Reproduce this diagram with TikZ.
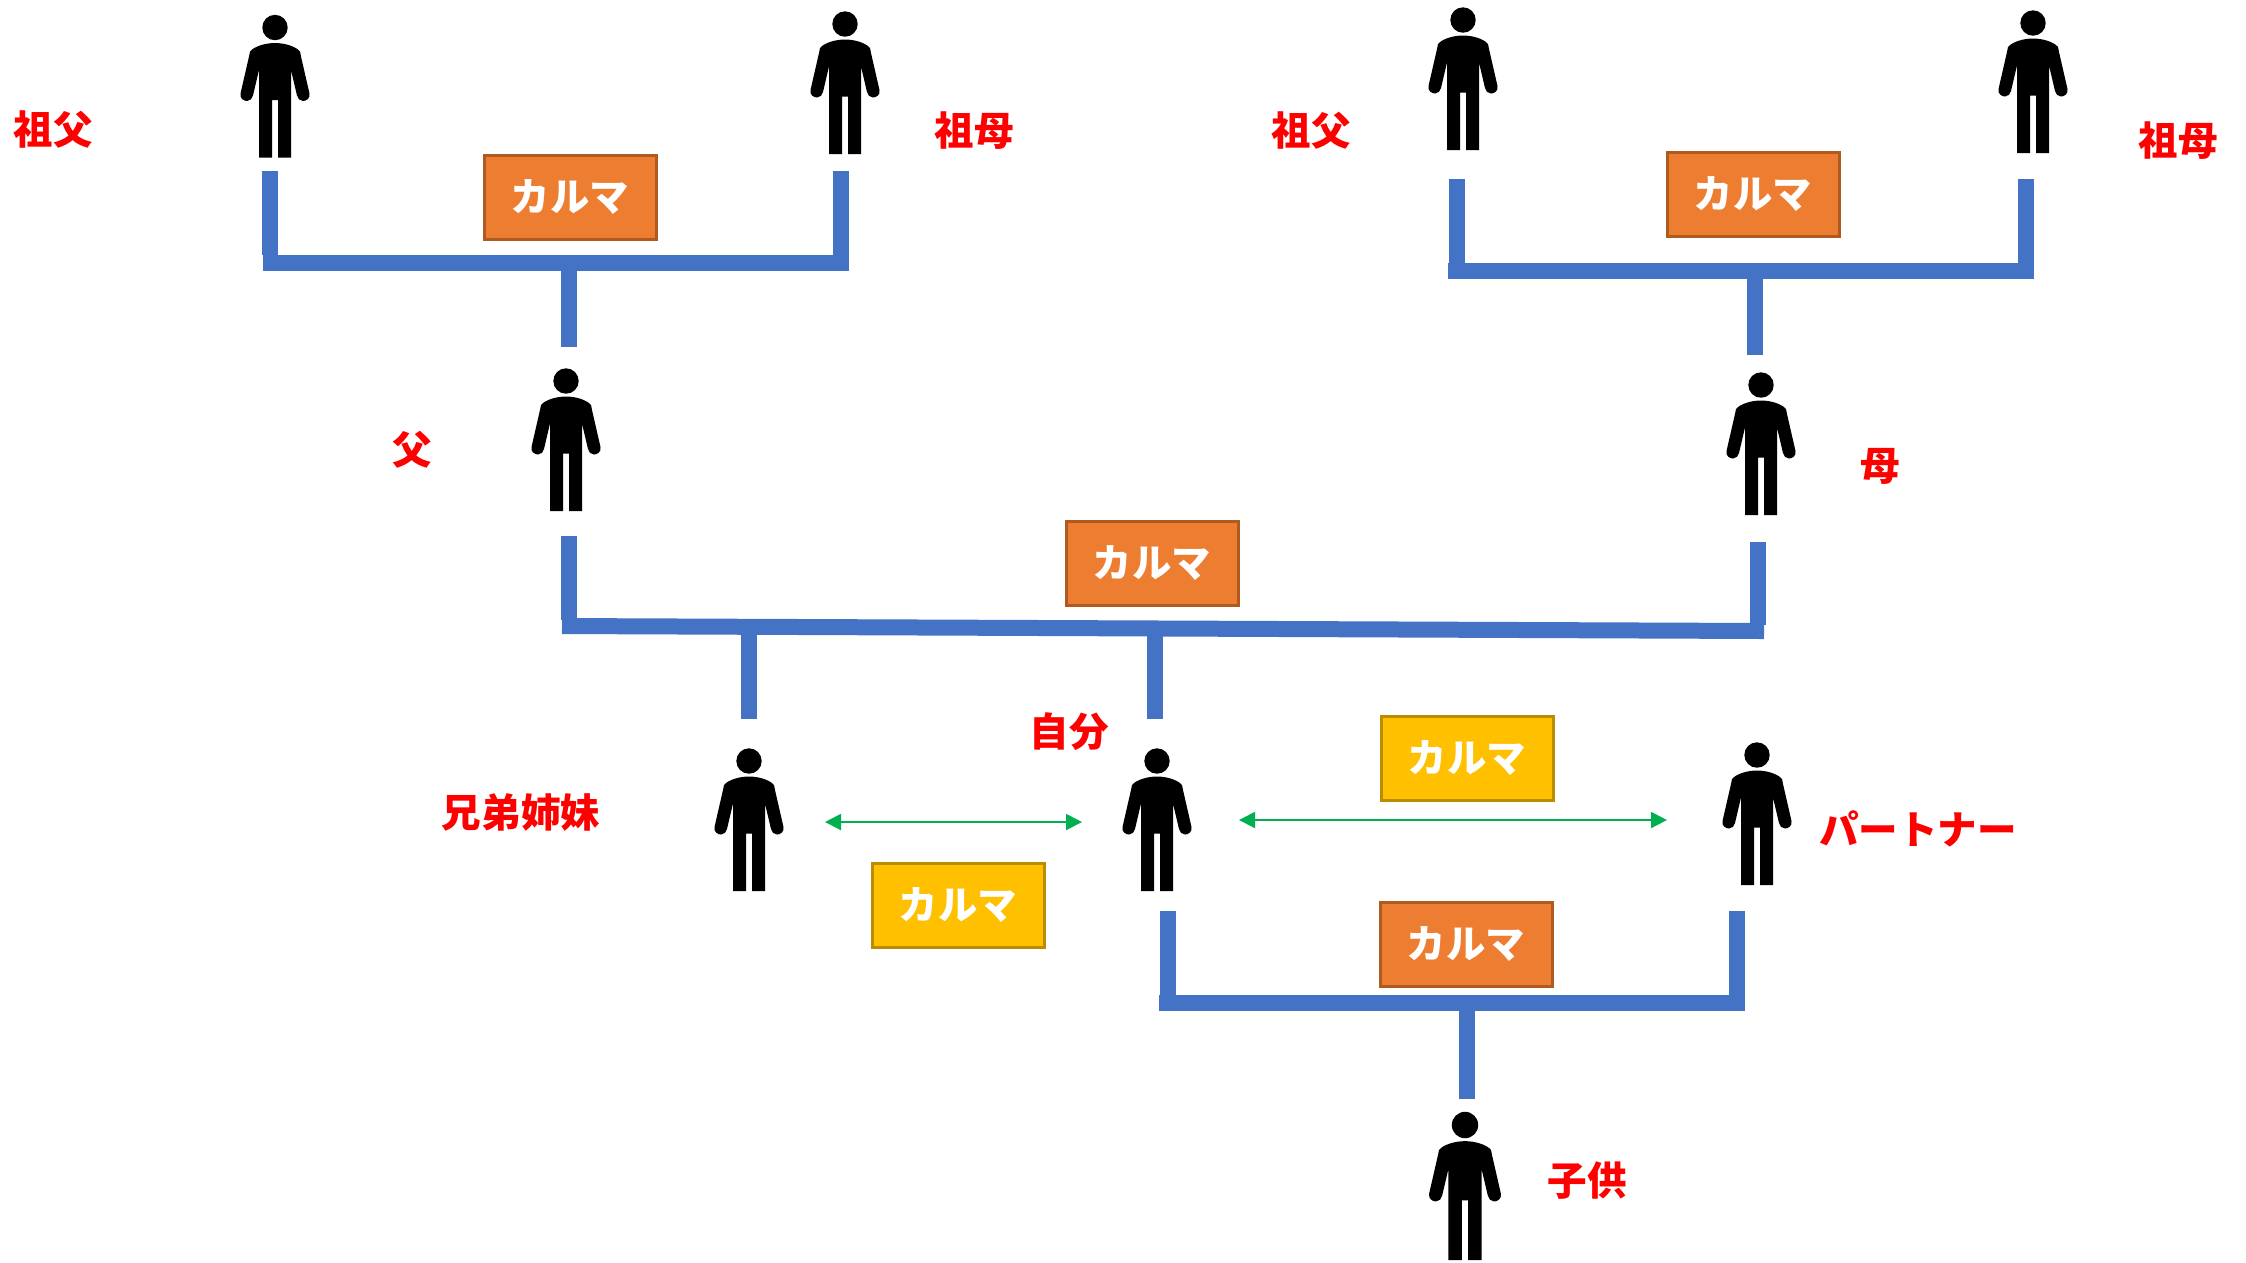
\documentclass[tikz,border=0pt]{standalone}
\usepackage{fontspec}
\setmainfont{Noto Sans CJK JP}
\usetikzlibrary{arrows.meta}
\definecolor{barblue}{HTML}{4472C4}
\definecolor{karmaorange}{HTML}{ED7D31}
\definecolor{karmaorangeline}{HTML}{AE5A21}
\definecolor{karmayellow}{HTML}{FFC000}
\definecolor{karmayellowline}{HTML}{BC8C00}
\definecolor{linkgreen}{HTML}{00B050}
\tikzset{
  bar/.style={draw=barblue, line width=1.6mm},
  karma/.style={minimum width=17.2mm, minimum height=8.4mm, inner sep=0pt, line width=0.3mm,
    text=white, font=\fontsize{11.2pt}{13pt}\selectfont\bfseries},
  karmao/.style={karma, fill=karmaorange, draw=karmaorangeline},
  karmay/.style={karma, fill=karmayellow, draw=karmayellowline},
  who/.style={text=red, inner sep=0pt, font=\fontsize{11.25pt}{13pt}\selectfont\bfseries},
  link/.style={draw=linkgreen, line width=0.2mm, {Triangle[length=1.6mm,width=1.6mm]}-{Triangle[length=1.6mm,width=1.6mm]}},
  person/.pic={
    \fill [black] (0,0) circle [radius=12.7] ;
    \fill [black] (0,15.5) .. controls (10,15.5) and (21,19) .. (25,24)
      -- (26,29) -- (34.5,66) .. controls (35.5,71) and (31,73.5) .. (28,73.5)
      .. controls (25,73.5) and (22.5,71) .. (22,68) -- (16,42.5) -- (16,130) -- (3,130)
      -- (3,72.5) -- (-3,72.5) -- (-3,130) -- (-16,130) -- (-16,42.5) -- (-22,68)
      .. controls (-22.5,71) and (-25,73.5) .. (-28,73.5)
      .. controls (-31,73.5) and (-35.5,71) .. (-34.5,66) -- (-26,29) -- (-25,24)
      .. controls (-21,19) and (-10,15.5) .. (0,15.5) -- cycle ;
  },
}
\begin{document}
\begin{tikzpicture}[x=0.1mm, y=-0.1mm]
    \useasboundingbox (0,0) rectangle (2246,1262) ;

    % people
    \pic (gfa) at (275,27.5) {person} ;
    \pic (gma) at (845,24) {person} ;
    \pic (gfb) at (1463,20) {person} ;
    \pic (gmb) at (2033,23) {person} ;
    \pic (father) at (566,381) {person} ;
    \pic (mother) at (1761,385) {person} ;
    \pic (sibling) at (749,761) {person} ;
    \pic (self) at (1157,761) {person} ;
    \pic (partner) at (1757,755) {person} ;
    \pic [scale=1.04] (child) at (1465,1125) {person} ;

    % left grandparents
    \coordinate (la) at (270,171) ;
    \coordinate (lb) at (270,255) ;
    \coordinate (lc) at (841,171) ;
    \coordinate (ld) at (841,255) ;
    \coordinate (le) at (263,263) ;
    \coordinate (lf) at (849,263) ;
    \coordinate (lg) at (569,271) ;
    \coordinate (lh) at (569,347) ;
    \draw [bar] (la) -- (lb) ;
    \draw [bar] (lc) -- (ld) ;
    \draw [bar] (le) -- (lf) ;
    \draw [bar] (lg) -- (lh) ;

    % right grandparents
    \coordinate (ra) at (1457,179) ;
    \coordinate (rb) at (1457,263) ;
    \coordinate (rc) at (2026,179) ;
    \coordinate (rd) at (2026,263) ;
    \coordinate (re) at (1448,271) ;
    \coordinate (rf) at (2034,271) ;
    \coordinate (rg) at (1755,279) ;
    \coordinate (rh) at (1755,355) ;
    \draw [bar] (ra) -- (rb) ;
    \draw [bar] (rc) -- (rd) ;
    \draw [bar] (re) -- (rf) ;
    \draw [bar] (rg) -- (rh) ;

    % parents
    \coordinate (ma) at (569,536) ;
    \coordinate (mb) at (569,620) ;
    \coordinate (mc) at (1758,542) ;
    \coordinate (md) at (1758,625) ;
    \coordinate (me) at (562,626) ;
    \coordinate (mf) at (1764,631) ;
    \coordinate (mg) at (749,635) ;
    \coordinate (mh) at (749,719) ;
    \coordinate (mi) at (1155,636) ;
    \coordinate (mj) at (1155,719) ;
    \draw [bar] (ma) -- (mb) ;
    \draw [bar] (mc) -- (md) ;
    \draw [bar] (me) -- (mf) ;
    \draw [bar] (mg) -- (mh) ;
    \draw [bar] (mi) -- (mj) ;

    % couple
    \coordinate (ca) at (1168,911) ;
    \coordinate (cb) at (1168,995) ;
    \coordinate (cc) at (1737,911) ;
    \coordinate (cd) at (1737,995) ;
    \coordinate (ce) at (1159,1003) ;
    \coordinate (cf) at (1745,1003) ;
    \coordinate (cg) at (1467,1011) ;
    \coordinate (ch) at (1467,1099) ;
    \draw [bar] (ca) -- (cb) ;
    \draw [bar] (cc) -- (cd) ;
    \draw [bar] (ce) -- (cf) ;
    \draw [bar] (cg) -- (ch) ;

    % karma boxes
    \node [karmao] (ka) at (570,197) {カルマ} ;
    \node [karmao] (kb) at (1753,194) {カルマ} ;
    \node [karmao] (kc) at (1152,563) {カルマ} ;
    \node [karmay] (kd) at (1467,758) {カルマ} ;
    \node [karmay] (ke) at (958,905) {カルマ} ;
    \node [karmao] (kf) at (1466,944) {カルマ} ;

    % links
    \coordinate (sa) at (825,822) ;
    \coordinate (sb) at (1082,822) ;
    \coordinate (pa) at (1239,820) ;
    \coordinate (pb) at (1667,820) ;
    \draw [link] (sa) -- (sb) ;
    \draw [link] (pa) -- (pb) ;

    % names
    \node [who] (nga) at (53,130) {祖父} ;
    \node [who] (ngb) at (974,131) {祖母} ;
    \node [who] (ngc) at (1311,131) {祖父} ;
    \node [who] (ngd) at (2178,141) {祖母} ;
    \node [who] (nfa) at (412,450) {父} ;
    \node [who] (nmo) at (1880,466) {母} ;
    \node [who] (nse) at (1069,732) {自分} ;
    \node [who] (nsi) at (521,812) {兄弟姉妹} ;
    \node [who] (npa) at (1918,829) {パートナー} ;
    \node [who] (nch) at (1587,1181) {子供} ;
\end{tikzpicture}
\end{document}
